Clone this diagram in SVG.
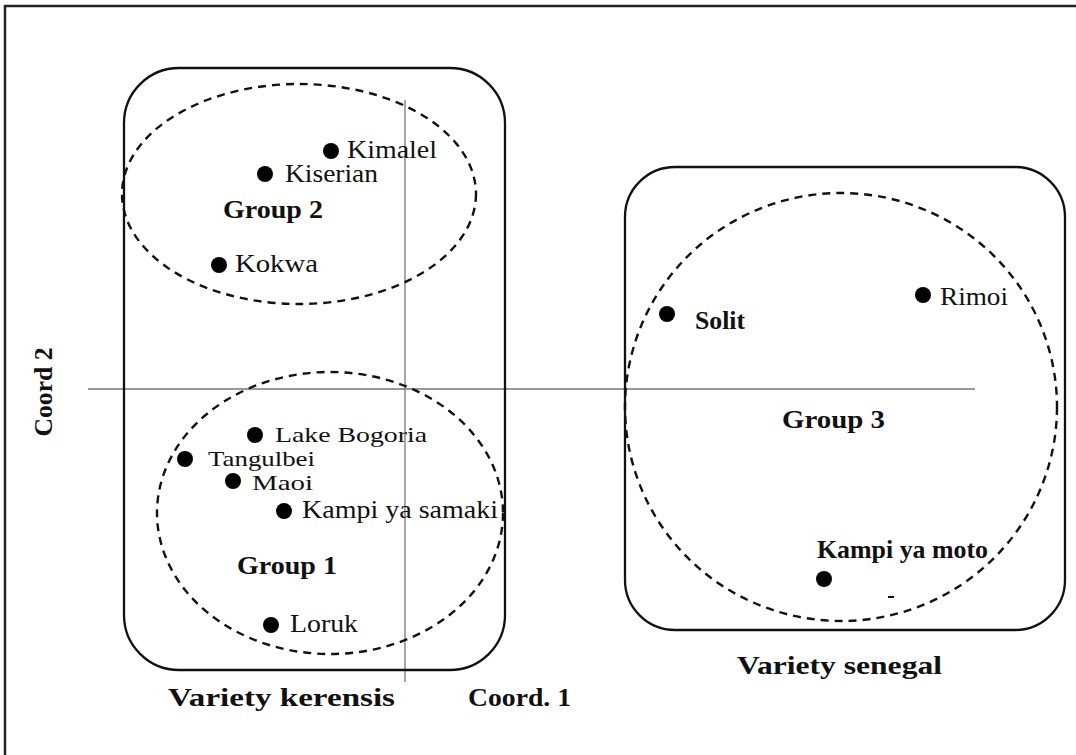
<svg xmlns="http://www.w3.org/2000/svg" width="1076" height="755" viewBox="0 0 1076 755">
<style>
.box{fill:none;stroke:#111;stroke-width:2.3}
.grp{fill:none;stroke:#111;stroke-width:2.4;stroke-dasharray:8,6}
.axis{stroke:#777;stroke-width:1.3}
.dot{fill:#000}
.lbl{font-family:"Liberation Serif",serif;font-size:26px;fill:#111}
.sm{font-size:21px}
.b{font-family:"Liberation Serif",serif;font-size:26px;font-weight:bold;fill:#111}
</style>
<rect width="1076" height="755" fill="#fff"/>
<path d="M5,755 V6 H1076" fill="none" stroke="#222" stroke-width="2.5"/>
<g id="connectors">
<line class="axis" x1="88" y1="389" x2="975" y2="389"/>
<line class="axis" x1="405" y1="100" x2="405" y2="682"/>
</g>
<g id="variety-kerensis">
<rect class="box" x="124" y="68" width="381" height="602" rx="55"/>
<text class="b" x="168" y="706" font-size="30" textLength="227" lengthAdjust="spacingAndGlyphs">Variety kerensis</text>
</g>
<g id="variety-senegal">
<rect class="box" x="625" y="167" width="440" height="463" rx="50"/>
<text class="b" x="737" y="674" font-size="30" textLength="205" lengthAdjust="spacingAndGlyphs">Variety senegal</text>
</g>
<g id="group2">
<ellipse class="grp" cx="299" cy="194" rx="177" ry="110"/>
<text class="b" x="223" y="218" textLength="100" lengthAdjust="spacingAndGlyphs">Group 2</text>
</g>
<g id="group1">
<ellipse class="grp" cx="330" cy="513" rx="173" ry="141"/>
<text class="b" x="237" y="574" textLength="100" lengthAdjust="spacingAndGlyphs">Group 1</text>
</g>
<g id="group3">
<ellipse class="grp" cx="841" cy="407" rx="216" ry="214"/>
<text class="b" x="782" y="428" textLength="103" lengthAdjust="spacingAndGlyphs">Group 3</text>
</g>
<g id="kimalel"><circle class="dot" cx="331" cy="151" r="8"/><text class="lbl" x="347" y="158" textLength="90" lengthAdjust="spacingAndGlyphs">Kimalel</text></g>
<g id="kiserian"><circle class="dot" cx="265" cy="174" r="8"/><text class="lbl" x="285" y="182" textLength="93" lengthAdjust="spacingAndGlyphs">Kiserian</text></g>
<g id="kokwa"><circle class="dot" cx="219" cy="265" r="8"/><text class="lbl" x="235" y="272" textLength="83" lengthAdjust="spacingAndGlyphs">Kokwa</text></g>
<g id="lake-bogoria"><circle class="dot" cx="255" cy="435" r="8"/><text class="lbl sm" x="275" y="442" textLength="152" lengthAdjust="spacingAndGlyphs">Lake Bogoria</text></g>
<g id="tangulbei"><circle class="dot" cx="185" cy="459" r="8"/><text class="lbl sm" x="208" y="466" textLength="107" lengthAdjust="spacingAndGlyphs">Tangulbei</text></g>
<g id="maoi"><circle class="dot" cx="233" cy="481" r="8"/><text class="lbl sm" x="252" y="490" textLength="61" lengthAdjust="spacingAndGlyphs">Maoi</text></g>
<g id="kampi-ya-samaki"><circle class="dot" cx="284" cy="511" r="8"/><text class="lbl" x="302" y="518" textLength="196" lengthAdjust="spacingAndGlyphs">Kampi ya samaki</text></g>
<g id="loruk"><circle class="dot" cx="271" cy="625" r="8"/><text class="lbl" x="290" y="632" textLength="68" lengthAdjust="spacingAndGlyphs">Loruk</text></g>
<g id="solit"><circle class="dot" cx="667" cy="314" r="8"/><text class="b" x="695" y="329" font-size="23" textLength="50" lengthAdjust="spacingAndGlyphs">Solit</text></g>
<g id="rimoi"><circle class="dot" cx="923" cy="295" r="8"/><text class="lbl" x="940" y="305" textLength="68" lengthAdjust="spacingAndGlyphs">Rimoi</text></g>
<g id="kampi-ya-moto"><circle class="dot" cx="824" cy="579" r="8"/><text class="b" x="817" y="558" font-size="23" textLength="171" lengthAdjust="spacingAndGlyphs">Kampi ya moto</text><line x1="888" y1="597" x2="894" y2="597" stroke="#111" stroke-width="2"/></g>
<text class="b" x="0" y="0" font-size="28" text-anchor="middle" textLength="89" lengthAdjust="spacingAndGlyphs" transform="translate(52,392) rotate(-90)">Coord 2</text>
<text class="b" x="468" y="706" font-size="29" textLength="103" lengthAdjust="spacingAndGlyphs">Coord. 1</text>
</svg>
